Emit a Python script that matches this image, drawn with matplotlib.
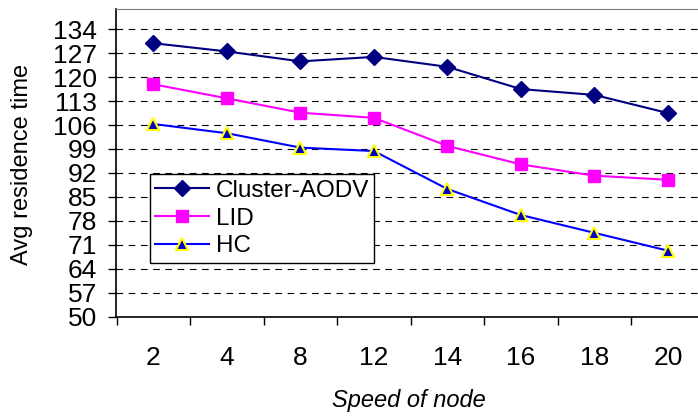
import matplotlib
matplotlib.use("Agg")
import matplotlib.pyplot as plt
import numpy as np

categories = ["2", "4", "8", "12", "14", "16", "18", "20"]
cluster_aodv = [129.9, 127.5, 124.6, 125.9, 123.0, 116.5, 114.8, 109.5]
lid = [117.9, 113.8, 109.6, 108.1, 99.9, 94.5, 91.2, 90.0]
hc = [106.3, 103.6, 99.4, 98.4, 87.3, 79.7, 74.5, 69.3]
yticks = [50, 57, 64, 71, 78, 85, 92, 99, 106, 113, 120, 127, 134]

plt.rcParams['font.family'] = ['Liberation Sans', 'DejaVu Sans']

W, H = 698, 416
fig = plt.figure(figsize=(W / 100, H / 100), dpi=100)
left, right, bottom, top = 116, 698, 316.7, 9
ax = fig.add_axes([left / W, 1 - bottom / H, (right - left) / W, (bottom - top) / H])

x = np.arange(len(categories))
ax.plot(x, cluster_aodv, color='#000080', marker='D', markersize=8.5, lw=1.5,
        markerfacecolor='#000080', markeredgecolor='#000080', label='Cluster-AODV', zorder=3)
ax.plot(x, lid, color='#FF00FF', marker='s', markersize=8, lw=1.5,
        markerfacecolor='#FF00FF', markeredgecolor='#FF00FF', label='LID', zorder=3)
ax.plot(x, hc, color='#0000FF', marker='^', markersize=9, lw=1.5,
        markerfacecolor='#0000C0', markeredgecolor='#FFFF00', markeredgewidth=1.5,
        label='HC', zorder=3)

ax.set_ylim(50, 139.9)
ax.set_yticks(yticks)
ax.set_yticklabels([str(t) for t in yticks], fontsize=19)
for t in yticks[1:]:
    ax.axhline(t, color='black', lw=0.8, ls=(0, (6, 5)), zorder=1)

ax.set_xlim(-0.51, 7.41)
ax.set_xticks(x)
ax.set_xticklabels(categories, fontsize=19)
ax.set_xticks(np.arange(-0.5, 7.0, 1.0), minor=True)
ax.tick_params(axis='x', which='major', length=0, pad=21)
ax.tick_params(axis='x', which='minor', direction='out', length=5.6, width=1, color='black')
ax.tick_params(axis='y', direction='out', length=5.6, width=1, color='black', pad=8)

ax.spines['right'].set_visible(False)
ax.spines['top'].set_color('#808080')
ax.spines['left'].set_linewidth(1.2)
ax.spines['bottom'].set_linewidth(1.2)

fig.text(409 / W, 1 - 401 / H, 'Speed of node', fontsize=17, style='italic',
         ha='center', va='center')
fig.text(22 / W, 1 - 164 / H, 'Avg residence time', fontsize=17, rotation=90,
         ha='center', va='center')

leg = ax.legend(loc='upper left', bbox_to_anchor=(150 / W, 1 - 174.3 / H),
                bbox_transform=fig.transFigure, fontsize=17.5, frameon=True,
                fancybox=False, edgecolor='black', framealpha=1,
                borderpad=0.22, labelspacing=0.24, handlelength=2.2,
                handletextpad=0.28, borderaxespad=0)
leg.get_frame().set_linewidth(1.0)

fig.savefig('out.png', dpi=100)
